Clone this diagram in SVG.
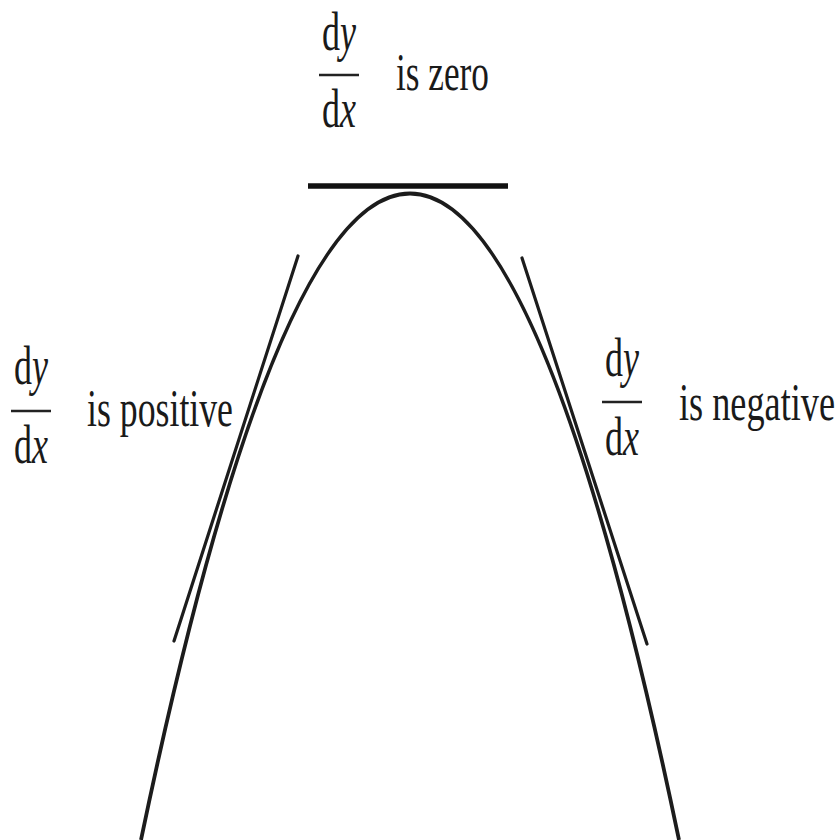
<svg xmlns="http://www.w3.org/2000/svg" width="838" height="840" viewBox="0 0 838 840">
<style>
  .curve { fill: none; stroke: #1c1c1c; stroke-width: 3.8; }
  .tan { fill: none; stroke: #1c1c1c; stroke-width: 3.2; stroke-linecap: round; }
  .flat { fill: none; stroke: #111; stroke-width: 5.5; }
  .bar { stroke: #222; stroke-width: 2.4; }
  text { font-family: "Liberation Serif", "DejaVu Serif", serif; font-size: 33px; fill: #1a1a1a; }
  .frac { font-size: 36px; }
  .it { font-style: italic; }
</style>
<rect width="838" height="840" fill="#ffffff"/>
<g id="connectors">
  <path id="curve" class="curve" d="M141,840 Q410,-453 679,840"/>
  <line id="tangent-left" class="tan" x1="174" y1="641" x2="298" y2="256"/>
  <line id="tangent-right" class="tan" x1="522" y1="258" x2="647" y2="644"/>
  <line id="tangent-top" class="flat" x1="308" y1="186" x2="508" y2="186"/>
</g>
<g id="label-zero">
  <text class="frac" transform="translate(339,50) scale(1,1.5)" text-anchor="middle">d<tspan class="it">y</tspan></text>
  <line class="bar" x1="319" y1="75" x2="359" y2="75"/>
  <text class="frac" transform="translate(339,127) scale(1,1.5)" text-anchor="middle">d<tspan class="it">x</tspan></text>
  <text transform="translate(396,90) scale(1,1.6)" textLength="93" lengthAdjust="spacingAndGlyphs">is zero</text>
</g>
<g id="label-positive">
  <text class="frac" transform="translate(31,384) scale(1,1.5)" text-anchor="middle">d<tspan class="it">y</tspan></text>
  <line class="bar" x1="11" y1="411" x2="51" y2="411"/>
  <text class="frac" transform="translate(31,463) scale(1,1.5)" text-anchor="middle">d<tspan class="it">x</tspan></text>
  <text transform="translate(87,426) scale(1,1.6)" textLength="146" lengthAdjust="spacingAndGlyphs">is positive</text>
</g>
<g id="label-negative">
  <text class="frac" transform="translate(622,376) scale(1,1.5)" text-anchor="middle">d<tspan class="it">y</tspan></text>
  <line class="bar" x1="602" y1="402" x2="642" y2="402"/>
  <text class="frac" transform="translate(622,455) scale(1,1.5)" text-anchor="middle">d<tspan class="it">x</tspan></text>
  <text transform="translate(679,420) scale(1,1.6)" textLength="156" lengthAdjust="spacingAndGlyphs">is negative</text>
</g>
</svg>
